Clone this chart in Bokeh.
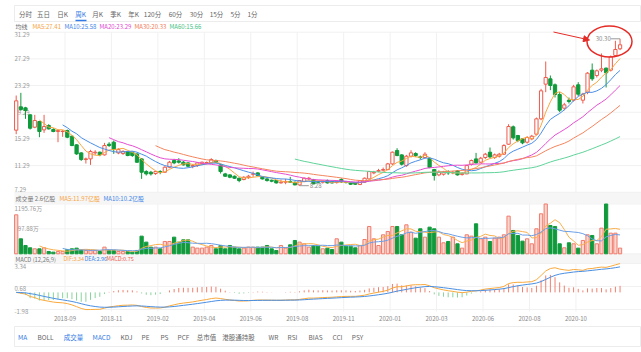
import numpy as np
import pandas as pd
from bokeh.plotting import figure
from bokeh.models import Range1d, Arrow, NormalHead
from bokeh.core.properties import value
from bokeh.embed import file_html
from bokeh.resources import INLINE

# ---------------- data (weekly K line) ----------------
opens = [16.6, 20.1, 19.95, 18.9, 17.05, 17.9, 16.65, 17.3, 16.7, 16.4,
         16.4, 16.55, 15.7, 14.4, 13.2, 12.2, 12.3, 13.2, 13.3, 12.9,
         14.5, 14.8, 13.2, 13.1, 13.4, 13.3, 13.05, 12.3, 10.4, 10.3,
         10.1, 10.4, 10.3, 11.05, 12.05, 12.0, 11.8, 11.7, 11.2, 11.3,
         11.6, 11.7, 11.7, 12.05, 11.4, 10.05, 9.9, 9.7, 9.4, 9.2,
         9.5, 10.0, 10.2, 9.55, 9.3, 9.1, 9.05, 8.7, 8.8, 8.9,
         8.8, 8.4, 8.9, 9.3, 9.2, 8.9, 8.8, 9.05, 8.9, 8.75,
         9.2, 8.9, 8.7, 8.75, 8.45, 8.8, 9.3, 10.2, 10.45, 10.6,
         10.7, 11.55, 13.55, 12.9, 11.3, 12.7, 13.1, 12.6, 12.5, 12.4,
         10.7, 9.9, 10.0, 10.35, 10.2, 10.5, 9.95, 10.05, 11.5, 12.3,
         11.8, 12.5, 13.3, 12.5, 12.7, 13.0, 14.5, 17.1, 15.8, 15.3,
         14.8, 15.3, 16.0, 18.3, 23.5, 24.3, 23.4, 21.95, 19.9, 21.1,
         21.1, 23.4, 21.1, 22.3, 25.6, 24.8, 25.6, 25.9, 25.6, 27.8,
         28.8]
highs = [21.8, 22.2, 20.1, 19.0, 18.9, 18.0, 18.9, 17.5, 16.9, 16.7,
         16.6, 16.7, 15.8, 14.5, 13.3, 12.5, 13.65, 13.6, 13.4, 14.7,
         14.8, 15.05, 13.9, 13.6, 13.5, 13.4, 13.1, 12.4, 10.6, 10.5,
         10.5, 10.6, 11.2, 12.0, 12.3, 12.4, 12.0, 11.8, 11.5, 11.8,
         11.9, 11.9, 12.4, 12.2, 11.5, 10.2, 10.0, 9.8, 9.5, 9.7,
         9.9, 10.4, 10.3, 9.6, 9.4, 9.2, 9.1, 9.2, 9.3, 9.6,
         8.9, 9.1, 9.5, 9.6, 9.3, 9.0, 9.1, 9.2, 9.0, 9.1,
         9.4, 9.0, 8.8, 8.8, 9.1, 9.5, 10.5, 10.5, 10.8, 11.0,
         11.7, 13.4, 13.9, 13.0, 12.9, 13.6, 13.3, 12.8, 13.3, 12.5,
         10.8, 10.6, 10.5, 10.6, 10.5, 10.6, 10.3, 11.4, 12.2, 13.2,
         12.6, 13.2, 14.0, 13.1, 13.2, 14.5, 17.5, 17.3, 15.9, 15.4,
         15.7, 15.9, 18.5, 22.8, 26.9, 24.8, 23.6, 22.3, 20.7, 21.5,
         23.4, 23.8, 22.2, 25.3, 26.6, 25.7, 28.1, 26.0, 27.8, 30.0,
         30.3]
lows = [16.0, 19.5, 18.3, 16.7, 16.9, 15.55, 16.2, 16.7, 16.3, 14.8,
        15.6, 15.4, 14.2, 12.9, 12.0, 11.6, 11.4, 12.9, 12.7, 12.8,
        14.1, 13.05, 13.0, 12.9, 12.7, 12.6, 11.7, 9.3, 9.8, 9.8,
        9.9, 10.0, 10.2, 10.9, 11.5, 11.6, 11.3, 11.1, 10.9, 11.1,
        11.4, 11.5, 11.6, 11.7, 10.1, 9.6, 9.4, 9.3, 8.8, 9.1,
        9.3, 9.6, 9.7, 9.2, 8.9, 8.8, 8.6, 8.6, 8.5, 8.7,
        8.35, 8.28, 8.8, 9.1, 8.5, 8.6, 8.6, 8.6, 8.6, 8.6,
        8.7, 8.6, 8.4, 8.4, 8.4, 8.7, 9.2, 10.0, 10.3, 10.4,
        10.6, 11.4, 12.7, 11.3, 11.1, 12.5, 12.6, 12.2, 12.4, 10.9,
        9.05, 9.7, 9.8, 9.9, 10.0, 9.8, 9.8, 10.0, 11.3, 11.6,
        11.7, 12.3, 12.4, 12.3, 12.5, 12.9, 14.4, 15.2, 14.8, 14.5,
        14.6, 15.1, 15.8, 18.1, 22.3, 22.6, 21.5, 19.3, 19.6, 20.6,
        20.9, 21.7, 20.6, 22.0, 24.0, 24.5, 25.3, 23.0, 25.4, 27.6,
        28.6]
closes = [21.0, 19.7, 19.55, 16.9, 18.05, 16.4, 17.15, 16.8, 16.4, 16.55,
          16.45, 15.55, 14.3, 13.05, 12.2, 12.3, 13.4, 13.3, 12.9, 14.3,
          14.3, 13.7, 13.7, 13.4, 12.8, 12.8, 11.8, 10.3, 10.05, 10.05,
          10.4, 10.3, 11.05, 11.8, 11.7, 11.8, 11.4, 11.2, 11.3, 11.7,
          11.8, 11.75, 12.2, 11.8, 10.4, 9.7, 9.55, 9.4, 9.05, 9.55,
          9.7, 10.05, 9.8, 9.3, 9.05, 8.95, 8.7, 8.8, 8.9, 8.8,
          8.4, 9.05, 9.4, 9.4, 8.55, 8.8, 8.95, 8.7, 8.7, 8.95,
          8.85, 8.8, 8.5, 8.5, 9.05, 9.4, 10.4, 10.3, 10.55, 10.7,
          11.55, 13.3, 12.8, 11.5, 12.7, 13.2, 12.8, 12.5, 13.0, 11.0,
          9.8, 10.3, 10.3, 10.2, 10.3, 9.9, 10.1, 11.3, 12.05, 11.7,
          12.4, 13.0, 12.6, 12.9, 13.0, 14.3, 17.15, 15.45, 15.05, 14.7,
          15.5, 15.7, 18.3, 22.5, 24.5, 23.3, 21.95, 19.6, 20.4, 20.9,
          23.1, 22.0, 22.0, 25.15, 24.3, 25.5, 25.8, 25.2, 27.6, 28.7,
          29.4]
# volume, 万
volumes = [936, 360, 200, 144, 120, 120, 144, 56, 40, 56,
           56, 104, 120, 136, 96, 80, 80, 80, 56, 160,
           80, 80, 56, 56, 56, 40, 80, 424, 280, 160,
           160, 120, 296, 296, 400, 280, 336, 336, 160, 136,
           136, 160, 200, 120, 200, 120, 200, 160, 120, 136,
           160, 160, 160, 160, 200, 120, 80, 200, 136, 216,
           320, 280, 240, 160, 200, 184, 120, 136, 104, 360,
           280, 184, 184, 144, 200, 344, 656, 360, 200, 456,
           536, 656, 656, 456, 696, 520, 376, 600, 400, 640,
           600, 400, 264, 296, 400, 240, 136, 456, 424, 720,
           360, 400, 296, 376, 400, 456, 904, 560, 440, 304,
           360, 240, 600, 960, 1195.76, 680, 656, 240, 144, 264,
           240, 136, 320, 456, 440, 240, 616, 1195.76, 496, 496,
           136]

# date labels sit on the boundary after these weeks
x_tick_idx = [10, 20, 30, 40, 50, 60, 70, 80, 90, 100, 110, 120]
x_tick_labels = ["2018-09", "2018-11", "2019-02", "2019-04", "2019-06", "2019-08",
                 "2019-11", "2020-01", "2020-03", "2020-06", "2020-08", "2020-10"]
price_ticks = [31.29, 27.29, 23.29, 19.29, 15.29, 11.29, 7.29]
vol_ticks = [1195.76, 597.88, 0]
vol_tick_labels = ["1195.76万", "597.88万", "0"]
macd_ticks = [3.34, 0.68, -1.98]

period_tabs = ["分时", "五日", "日K", "周K", "月K", "季K", "年K", "120分", "60分", "30分", "15分", "5分", "1分"]
indicator_tabs = ["MA", "BOLL", "成交量", "MACD", "KDJ", "PE", "PS", "PCF", "总市值", "港股通持股",
                  "WR", "RSI", "BIAS", "CCI", "PSY"]
ma_legend = ["MA5:27.41", "MA10:25.58", "MA20:23.29", "MA30:20.33", "MA60:15.66"]
vol_legend = ["成交量 2.6亿股", "MA5:11.97亿股", "MA10:10.2亿股"]
macd_legend = ["MACD (12,26,9)", "DIF:3.34", "DEA:2.96", "MACD:0.75"]

# ---------------- derived series ----------------
n = len(closes)
idx = np.arange(n)
o = np.array(opens); h = np.array(highs); l = np.array(lows); c = np.array(closes)
v = np.array(volumes, dtype=float)
cs = pd.Series(c)


def ma(series, k):
    m = series.rolling(k).mean().to_numpy()
    m[:k] = np.nan
    return m


ema12 = cs.ewm(span=12, adjust=False).mean()
ema26 = cs.ewm(span=26, adjust=False).mean()
dif = (ema12 - ema26)
dea = dif.ewm(span=9, adjust=False).mean()
hist = 2 * (dif - dea)

up = c >= o
FONT = value("Noto Sans CJK SC")
RED = "#ef5a4b"
GREEN = "#109a3c"
MA_COLORS = ["#f9a640", "#4a8fe7", "#e64fd2", "#f4855e", "#5fd39a"]

W, H = 641, 352
XS = 4.645          # px per week
X0 = 15.7           # px of first candle


def yr(v_top, y_top, v_bot, y_bot):
    s = (v_top - v_bot) / (y_bot - y_top)
    return Range1d(start=v_bot - (H - y_bot) * s, end=v_top + y_top * s)


p = figure(width=W, height=H, output_backend="svg", toolbar_location=None,
           x_range=Range1d(-X0 / XS, -X0 / XS + W / XS), y_range=Range1d(0, 1),
           x_axis_location=None, y_axis_location=None, min_border=0,
           background_fill_color="white", border_fill_color="white")
p.outline_line_color = None
p.grid.visible = False
p.extra_x_ranges = {"px": Range1d(0, W)}
p.extra_y_ranges = {"px": Range1d(H, 0),
                    "price": yr(31.29, 31.7, 7.29, 191.8),
                    "vol": yr(1195.76, 203.5, 0, 253.3),
                    "macd": yr(3.34, 263.0, -1.98, 309.0)}


def txt(x, y, t, color="#666666", size="6.5px", align="left", baseline="middle",
        xr="px", yrn="px", **kw):
    p.text(x=x, y=y, text=t, x_range_name=xr, y_range_name=yrn, text_font=FONT,
           text_font_size=size, text_color=color, text_align=align,
           text_baseline=baseline, **kw)


GRID = "#f1f1f1"
gx = [t + 0.5 for t in x_tick_idx]
# header bands
p.quad(left=[14, 14], right=[W, W], top=[192, 253.5], bottom=[203, 263.5],
       x_range_name="px", y_range_name="px", fill_color="#f6f6f6", line_color=None)
# vertical grid
for y0, y1 in ((31.7, 192), (203, 253.5), (263.5, 311)):
    p.segment(x0=gx, x1=gx, y0=[y0] * len(gx), y1=[y1] * len(gx),
              y_range_name="px", line_color=GRID, line_width=1)
# horizontal grids
for name, ticks in (("price", price_ticks), ("vol", vol_ticks), ("macd", macd_ticks)):
    p.segment(x0=[14] * len(ticks), x1=[W] * len(ticks), y0=ticks, y1=ticks,
              x_range_name="px", y_range_name=name, line_color=GRID, line_width=1)

# tick labels (behind marks)
lab = [f"{t:.2f}" for t in price_ticks]
txt([14], [price_ticks[0]], [lab[0]], "#999999", "6px", baseline="top", yrn="price")
txt([14] * 5, price_ticks[1:-1], lab[1:-1], "#999999", "6px", yrn="price")
txt([14], [price_ticks[-1]], [lab[-1]], "#999999", "6px", baseline="bottom", yrn="price")
txt([14], [vol_ticks[0]], [vol_tick_labels[0]], "#999999", "6px", baseline="top", yrn="vol")
txt([14], [vol_ticks[1]], [vol_tick_labels[1]], "#999999", "6px", yrn="vol")
txt([14], [vol_ticks[2]], [vol_tick_labels[2]], "#999999", "6px", baseline="bottom", yrn="vol")
mlab = [f"{t:.2f}" for t in macd_ticks]
txt([14], [macd_ticks[0]], [mlab[0]], "#999999", "6px", baseline="top", yrn="macd")
txt([14, 14], macd_ticks[1:], mlab[1:], "#999999", "6px", yrn="macd", y_offset=2)

# ---------------- candles ----------------
for mask, col in ((up, RED), (~up, GREEN)):
    p.segment(x0=idx[mask], x1=idx[mask], y0=l[mask], y1=h[mask], y_range_name="price",
              line_color=col, line_width=1)
p.vbar(x=idx[up], width=0.7, top=np.maximum(o, c)[up], bottom=np.minimum(o, c)[up],
       y_range_name="price", fill_color="white", line_color=RED, line_width=1)
p.vbar(x=idx[~up], width=0.7, top=np.maximum(o, c)[~up], bottom=np.minimum(o, c)[~up],
       y_range_name="price", fill_color=GREEN, line_color=GREEN, line_width=1)

for k, col in zip((5, 10, 20, 30, 60), MA_COLORS):
    p.line(idx, ma(cs, k), y_range_name="price", line_color=col, line_width=1)

# high / low markers
imax = int(np.argmax(h)); imin = int(np.argmin(l))
p.segment(x0=[imax - 2.0], x1=[imax], y0=[h[imax]], y1=[h[imax]], y_range_name="price",
          line_color="#999999", line_width=1)
txt([imax - 2.0], [h[imax]], [f"{h[imax]:.2f}"], "#888888", "6px", align="right",
    xr="default", yrn="price")
p.segment(x0=[imin], x1=[imin + 2.0], y0=[l[imin]], y1=[l[imin]], y_range_name="price",
          line_color="#999999", line_width=1)
txt([imin + 2.0], [l[imin]], [f"{l[imin]:.2f}"], "#888888", "6px",
    xr="default", yrn="price", x_offset=1)

# ---------------- volume ----------------
p.vbar(x=idx[up], width=0.7, top=v[up], bottom=0, y_range_name="vol",
       fill_color="#fcd6cf", line_color="#ef7b6b", line_width=1)
p.vbar(x=idx[~up], width=0.7, top=v[~up], bottom=0, y_range_name="vol",
       fill_color=GREEN, line_color=GREEN, line_width=1)
vs = pd.Series(v)
p.line(idx, ma(vs, 5), y_range_name="vol", line_color="#f9b04e", line_width=1)
p.line(idx, ma(vs, 10), y_range_name="vol", line_color="#6c9fe6", line_width=1)

# ---------------- MACD ----------------
hv = hist.to_numpy()
pos = hv >= 0
p.segment(x0=idx[pos], x1=idx[pos], y0=[0] * int(pos.sum()), y1=hv[pos], y_range_name="macd",
          line_color="#f0806f", line_width=1)
p.segment(x0=idx[~pos], x1=idx[~pos], y0=[0] * int((~pos).sum()), y1=hv[~pos], y_range_name="macd",
          line_color="#88d39b", line_width=1)
p.line(idx, dif.to_numpy(), y_range_name="macd", line_color="#f9a93c", line_width=1)
p.line(idx, dea.to_numpy(), y_range_name="macd", line_color="#4a8fe2", line_width=1)

# ---------------- headers / legends ----------------
# period tab bar
p.quad(left=[14], right=[W - 1], top=[5], bottom=[21], x_range_name="px", y_range_name="px",
       fill_color=None, line_color="#ececec", line_width=1)
tab_x = [25, 43, 62, 80, 97, 115, 133, 152, 175, 196, 216, 235, 252]
tab_col = ["#2f7ae5" if t == "周K" else "#666666" for t in period_tabs]
txt(tab_x, [13] * len(period_tabs), period_tabs, tab_col, "6.5px", align="center")
p.segment(x0=[75], x1=[86], y0=[20], y1=[20], x_range_name="px", y_range_name="px",
          line_color="#2f7ae5", line_width=1.5)

txt([15], [25.5], ["均线"], "#666666", "6px")
txt([32, 64, 99, 134, 169], [25.5] * 5, ma_legend,
    ["#f7a43e", "#3f86e8", "#e04ad0", "#f27c55", "#3fc282"], "6px")

txt([15, 59, 103], [197.5] * 3, vol_legend, ["#777777", "#f7a43e", "#3f86e8"], "6px")
txt([15], [258.5], macd_legend[:1], "#777777", "5.8px")
txt([63, 84, 106], [258.5] * 3, macd_legend[1:],
    ["#f7a43e", "#3f86e8", "#ef5a4b"], "5.5px")

# x axis labels
txt(gx, [318] * len(gx), x_tick_labels, "#888888", "6px", align="center", xr="default")

# indicator tab bar
p.quad(left=[14], right=[W - 1], top=[326], bottom=[346], x_range_name="px", y_range_name="px",
       fill_color=None, line_color="#ececec", line_width=1)
ind_x = [22, 45, 73, 101, 126, 145, 164, 183, 206, 238, 273, 292, 315, 337, 357]
ind_col = ["#2f7ae5" if t in ("MA", "成交量", "MACD") else "#666666" for t in indicator_tabs]
txt(ind_x, [336] * len(indicator_tabs), indicator_tabs, ind_col, "6.5px", align="center")

# red hand-drawn annotation around the high
p.ellipse(x=[609], y=[41], width=[45], height=[31], x_range_name="px", y_range_name="px",
          fill_color=None, line_color="#e52b26", line_width=1.5)
p.add_layout(Arrow(end=NormalHead(size=6, fill_color="#e52b26", line_color="#e52b26"),
                   x_start=553, y_start=31.5, x_end=589, y_end=39.5,
                   x_range_name="px", y_range_name="px", line_color="#e52b26", line_width=1))

open("out.html", "w").write(file_html(p, INLINE))
